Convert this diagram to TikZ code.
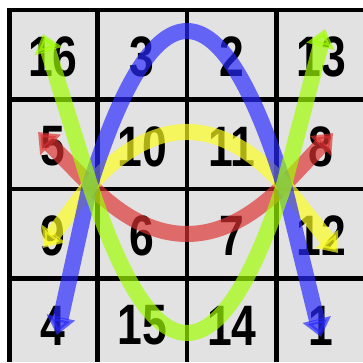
\documentclass[tikz,border=0pt]{standalone}
\usepackage{fontspec}
\setmainfont{Liberation Sans}
\usetikzlibrary{arrows.meta}
\definecolor{cellgray}{RGB}{226,226,226}
\definecolor{bandblue}{RGB}{40,40,255}
\definecolor{bandgreen}{RGB}{160,255,0}
\definecolor{bandred}{RGB}{222,50,50}
\definecolor{bandyellow}{RGB}{255,255,30}
\tikzstyle{num}      = [font=\bfseries\fontsize{57}{57}\selectfont, xscale=0.78, transform shape, inner sep=0pt]
\tikzstyle{gridline} = [line width=4.5pt, black]
\tikzstyle{band}     = [line width=16pt, opacity=0.68, {Triangle[width=28pt,length=18pt]}-{Triangle[width=28pt,length=18pt]}]

\begin{document}
\begin{tikzpicture}[x=1pt, y=1pt]
\useasboundingbox (0,0) rectangle (363,362);

% podklad a mřížka
\fill[cellgray] (9.5,0) rectangle (363,352);
\draw[gridline] (9.5,352) -- (363,352);
\draw[gridline] (9.5,262.5) -- (363,262.5);
\draw[gridline] (9.5,173) -- (363,173);
\draw[gridline] (9.5,83.5) -- (363,83.5);
\draw[gridline] (9.5,0) -- (9.5,354);
\draw[gridline] (97.5,0) -- (97.5,354);
\draw[gridline] (187,0) -- (187,354);
\draw[gridline] (276.5,0) -- (276.5,354);

% čísla
\node[num] (n16) at (52.75,305) {16};
\node[num] (n3)  at (142.25,305) {3};
\node[num] (n2)  at (231.75,305) {2};
\node[num] (n13) at (321.25,305) {13};
\node[num] (n5)  at (52.75,215.5) {5};
\node[num] (n10) at (142.25,215.5) {10};
\node[num] (n11) at (231.75,215.5) {11};
\node[num] (n8)  at (321.25,215.5) {8};
\node[num] (n9)  at (52.75,126) {9};
\node[num] (n6)  at (142.25,126) {6};
\node[num] (n7)  at (231.75,126) {7};
\node[num] (n12) at (321.25,126) {12};
\node[num] (n4)  at (52.75,36.5) {4};
\node[num] (n15) at (142.25,36.5) {15};
\node[num] (n14) at (231.75,36.5) {14};
\node[num] (n1)  at (321.25,36.5) {1};

% průsečíky a konce oblouků
\coordinate (cl) at (90,177);
\coordinate (cr) at (284,177);
\coordinate (b4) at (57,27);
\coordinate (b1) at (321,25);
\coordinate (g16) at (43,328);
\coordinate (g13) at (325,333);
\coordinate (r5) at (38,230);
\coordinate (r8) at (333,229);
\coordinate (y9) at (43,114);
\coordinate (y12) at (338,109);

% oblouky (paraboly mezi průsečíky)
\draw[band, bandred] (r5) -- (cl) .. controls (154.7,111.7) and (219.3,111.7) .. (cr) -- (r8);
\draw[band, bandyellow] (y9) -- (cl) .. controls (154.7,247.7) and (219.3,247.7) .. (cr) -- (y12);
\draw[band, bandblue] (b4) -- (cl) .. controls (154.7,382.3) and (219.3,382.3) .. (cr) -- (b1);
\draw[band, bandgreen] (g16) -- (cl) .. controls (154.7,-20.3) and (219.3,-20.3) .. (cr) -- (g13);

\end{tikzpicture}
\end{document}
